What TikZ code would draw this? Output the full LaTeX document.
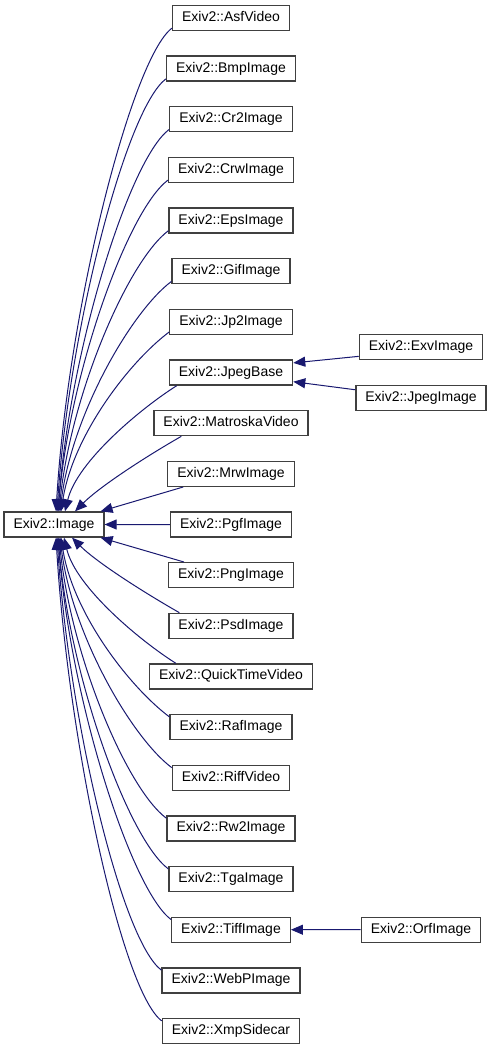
\documentclass[tikz,border=0pt]{standalone}
\usepackage{fontspec}
\setmainfont{Liberation Sans}
\usepackage{tikz}
\usetikzlibrary{arrows.meta,calc}

\definecolor{edgeblue}{RGB}{25,25,112}
\definecolor{boxgray}{RGB}{64,64,64}

\begin{document}
\begin{tikzpicture}[
  x=1pt, y=-1pt,
  every node/.style={font=\fontsize{14}{16}\selectfont},
  cls/.style={draw=boxgray, line width=1.3pt, fill=white, minimum height=25pt,
    inner xsep=9.5pt, inner ysep=0pt, text height=10pt, text depth=3pt},
  inh/.style={draw=edgeblue, line width=1pt, -{Triangle[length=12pt,width=10pt]}},
]
\useasboundingbox (0,0) rectangle (491,1051);
\node[cls] (img) at (54,524.5) {Exiv2::Image};
\foreach \n/\t [count=\i from 0] in {asf/AsfVideo, bmp/BmpImage, cr2/Cr2Image,
    crw/CrwImage, eps/EpsImage, gif/GifImage, jp2/Jp2Image, jbase/JpegBase,
    mkv/MatroskaVideo, mrw/MrwImage, pgf/PgfImage, png/PngImage, psd/PsdImage,
    qt/QuickTimeVideo, raf/RafImage, riff/RiffVideo, rw2/Rw2Image, tga/TgaImage,
    tiff/TiffImage, webp/WebPImage, xmp/XmpSidecar}
  \node[cls] (\n) at (231, 18+50.65*\i) {Exiv2::\t};
\node[cls] (exv) at (421,347.2) {Exiv2::ExvImage};
\node[cls] (jimg) at (421,397.9) {Exiv2::JpegImage};
\node[cls] (orf) at (421,929.7) {Exiv2::OrfImage};
% derived classes above the base
\foreach \n/\h/\e in {asf/203/2, bmp/182/3, cr2/161/4, crw/140/4, eps/118/5, gif/97/6, jp2/76/7}
  \draw[inh] ([yshift=3pt]\n.south west) .. controls +(-40,30) and +(12,-\h) .. ([xshift=\e pt]img.north);
\draw[inh] ([xshift=8pt]jbase.south west) .. controls +(-35,22) and +(12,-50) .. ([xshift=11pt]img.north);
\draw[inh] ([xshift=28pt]mkv.south west) .. controls +(-35,20) and +(25,-25) .. ([xshift=21pt]img.north);
\draw[inh] ([xshift=16pt]mrw.south west) -- ([xshift=-4pt]img.north east);
\draw[inh] (pgf) -- (img);
% derived classes below the base
\draw[inh] ([xshift=16pt]png.north west) -- ([xshift=-4pt]img.south east);
\draw[inh] ([xshift=11pt]psd.north west) .. controls +(-35,-20) and +(25,25) .. ([xshift=18pt]img.south);
\draw[inh] ([xshift=27pt]qt.north west) .. controls +(-35,-22) and +(12,50) .. ([xshift=10pt]img.south);
\foreach \n/\h/\e in {raf/76/7, riff/97/6, rw2/118/5, tga/140/4, tiff/161/4, webp/182/3, xmp/203/2}
  \draw[inh] ([yshift=-3pt]\n.north west) .. controls +(-40,-30) and +(12,\h) .. ([xshift=\e pt]img.south);
% second level
\draw[inh] ([yshift=4pt]exv.south west) -- ([yshift=-3.5pt]jbase.north east);
\draw[inh] ([yshift=-5pt]jimg.north west) -- ([yshift=4pt]jbase.south east);
\draw[inh] (orf) -- (tiff);
\end{tikzpicture}
\end{document}
